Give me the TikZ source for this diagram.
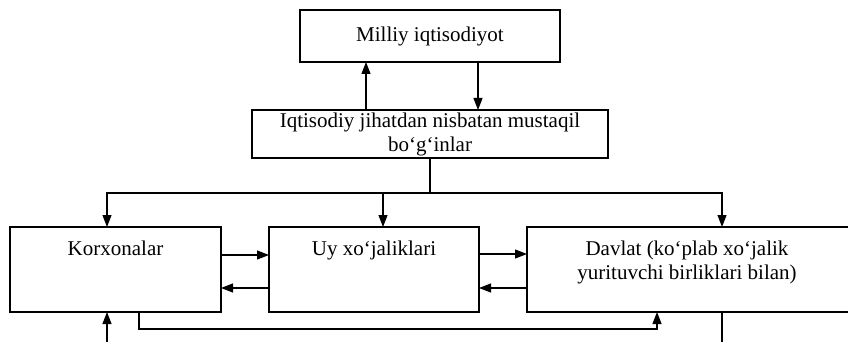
\documentclass[tikz,border=0pt]{standalone}
\usepackage{fontspec}
\setmainfont{Liberation Serif}
\usetikzlibrary{arrows.meta,positioning}

\begin{document}
\begin{tikzpicture}[x=1pt, y=-1pt,
    box/.style={rectangle, draw, line width=1.2pt, inner sep=0pt, outer sep=0pt, align=center, font=\fontsize{21}{24}\selectfont},
    txt/.style={inner sep=0pt, align=center, font=\fontsize{21}{24}\selectfont},
    arr/.style={-{Triangle[length=12pt, width=9pt]}, line width=1.2pt},
    link/.style={line width=1.2pt}]
    \clip (0,0) rectangle (848,342);

    % Upper levels
    \node[box, minimum width=260pt, minimum height=52pt] (milliy) at (430,36) {Milliy iqtisodiyot};
    \node[box, minimum width=356pt, minimum height=48pt] (bogin) at (430,134) {Iqtisodiy jihatdan nisbatan mustaqil\\bo‘g‘inlar};

    % Units
    \node[box, minimum width=211pt, minimum height=85pt] (korx) at (115.5,269.5) {};
    \node[box, minimum width=210pt, minimum height=85pt] (uy) at (374,269.5) {};
    \node[box, minimum width=323pt, minimum height=85pt] (davlat) at (688.5,269.5) {};
    \node[txt, below=14pt of korx.north] (korxtxt) {Korxonalar};
    \node[txt, below=14pt of uy.north] (uytxt) {Uy xo‘jaliklari};
    \node[txt, below=14pt of davlat.north, xshift=-1.5pt] (davlattxt) {Davlat (ko‘plab xo‘jalik\\yurituvchi birliklari bilan)};

    % Free ends
    \coordinate (bus) at (430,193);
    \coordinate (korxin) at (107,345);
    \coordinate (davlatout) at (722,345);

    % Connections
    \draw[arr] ([xshift=-64pt]bogin.north) -- ([xshift=-64pt]milliy.south);
    \draw[arr] ([xshift=48pt]milliy.south) -- ([xshift=48pt]bogin.north);
    \draw[link] (bogin.south) -- (bus);
    \draw[arr] (bus) -| ([xshift=-8.5pt]korx.north);
    \draw[arr] (bus) -| ([xshift=9pt]uy.north);
    \draw[arr] (bus) -| ([xshift=33.5pt]davlat.north);
    \draw[arr] ([yshift=14.5pt]korx.east) -- ([yshift=14.5pt]uy.west);
    \draw[arr] ([yshift=-18.5pt]uy.west) -- ([yshift=-18.5pt]korx.east);
    \draw[arr] ([yshift=15.5pt]uy.east) -- ([yshift=15.5pt]davlat.west);
    \draw[arr] ([yshift=-18.5pt]davlat.west) -- ([yshift=-18.5pt]uy.east);
    \draw[arr] ([xshift=23.5pt]korx.south) -- ++(0,17) -| ([xshift=-31.5pt]davlat.south);
    \draw[arr] (korxin) -- ([xshift=-8.5pt]korx.south);
    \draw[link] ([xshift=33.5pt]davlat.south) -- (davlatout);
\end{tikzpicture}
\end{document}
